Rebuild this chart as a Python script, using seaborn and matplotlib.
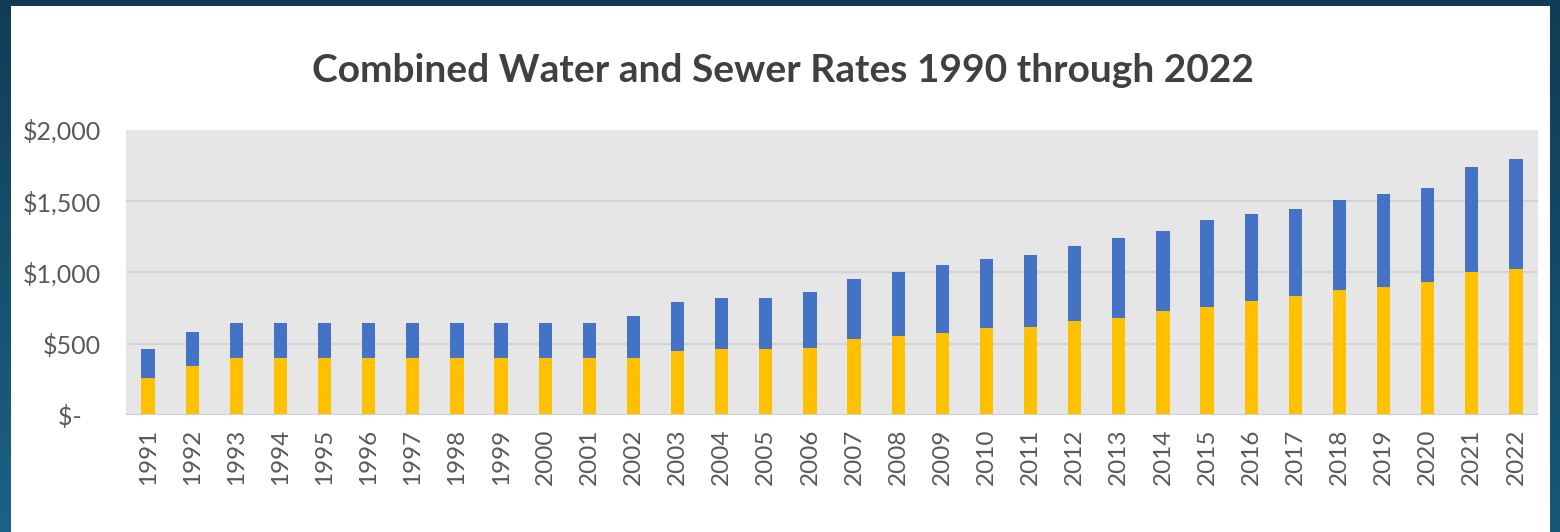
import numpy as np
import pandas as pd
import matplotlib
matplotlib.use("Agg")
import matplotlib.pyplot as plt
import seaborn as sns
from matplotlib.colors import LinearSegmentedColormap

years = [str(y) for y in range(1991, 2023)]
water = [257, 343, 400, 400, 400, 400, 400, 400, 400, 400, 400, 400, 446, 460, 460, 471,
         534, 553, 576, 607, 616, 660, 681, 726, 758, 800, 833, 875, 898, 929, 1001, 1024]
total = [460, 579, 645, 645, 645, 645, 645, 645, 645, 645, 645, 695, 789, 821, 821, 863,
         950, 1003, 1048, 1090, 1120, 1185, 1239, 1290, 1365, 1407, 1440, 1505, 1545, 1589, 1736, 1792]
ytick_vals = [0, 500, 1000, 1500, 2000]
ytick_labels = ["$-   ", "$500", "$1,000", "$1,500", "$2,000"]
title = "Combined Water and Sewer Rates 1990 through 2022"

df = pd.DataFrame({"year": years, "water": water, "total": total})

sns.set_theme(style="white")
plt.rcParams["font.family"] = ["Lato", "DejaVu Sans"]

W, H = 1560, 532
fig = plt.figure(figsize=(W / 100, H / 100), dpi=100)

# background gradient frame
bg = fig.add_axes([0, 0, 1, 1], zorder=-10)
cmap = LinearSegmentedColormap.from_list("frame", ["#123c55", "#15506e", "#1b6286"])
gx, gy = np.meshgrid(np.linspace(0, 1, 200), np.linspace(0, 1, 200))
grad = 0.7 * gy + 0.3 * (1 - gx) * gy
bg.imshow(grad, cmap=cmap, aspect="auto", extent=[0, 1, 0, 1], origin="upper")
bg.add_patch(plt.Rectangle((11 / W, 0), (1550 - 11) / W, (H - 6) / H,
                           facecolor="white", edgecolor="none", transform=bg.transAxes))
bg.set_axis_off()

ax = fig.add_axes([126 / W, (H - 415) / H, (1538 - 126) / W, (415 - 129.5) / H])
ax.set_facecolor("#e6e6e6")

sns.barplot(data=df, x="year", y="total", color="#4472C4", width=0.30,
            saturation=1, linewidth=0, ax=ax, zorder=3)
sns.barplot(data=df, x="year", y="water", color="#FFC000", width=0.30,
            saturation=1, linewidth=0, ax=ax, zorder=4)

ax.set_ylim(0, 2000)
ax.set_xlim(-0.5, len(years) - 0.5)
ax.set_yticks(ytick_vals)
ax.set_yticklabels(ytick_labels)
ax.yaxis.grid(True, color="#d2d2d2", linewidth=1.5, zorder=0)
ax.set_axisbelow(True)
for s in ax.spines.values():
    s.set_visible(False)
ax.axhline(0, color="#d0d0d0", linewidth=1.5, zorder=5)
ax.set_xlabel("")
ax.set_ylabel("")
ax.tick_params(axis="x", labelrotation=90, labelsize=17.5, labelcolor="#595959", pad=10, length=0)
ax.tick_params(axis="y", labelsize=18, labelcolor="#595959", pad=18, length=0)

fig.text(0.502, 0.868, title, ha="center", va="center", fontsize=28,
         fontweight="bold", color="#404040")

fig.savefig("out.png", dpi=100)
